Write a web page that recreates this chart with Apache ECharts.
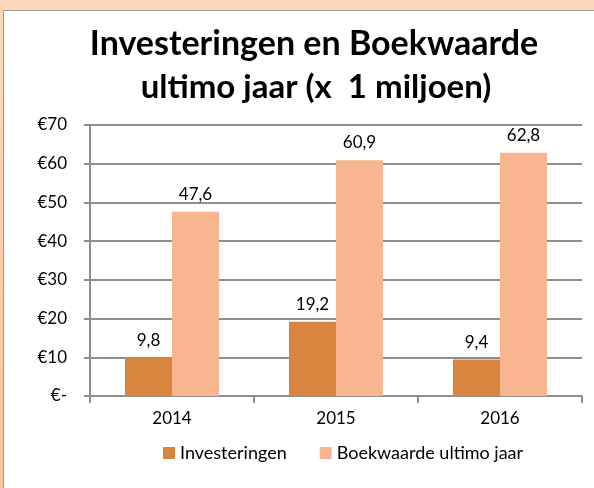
<!DOCTYPE html>
<html>
<head>
<meta charset="utf-8">
<script src="https://cdn.jsdelivr.net/npm/echarts@6/dist/echarts.min.js"></script>
<style>
  html, body { margin: 0; padding: 0; }
  body {
    width: 594px; height: 488px; overflow: hidden;
    background: linear-gradient(to bottom, #fdd8b8, #fbc39a);
    position: relative;
  }
  #frame {
    position: absolute; left: 3px; top: 10px; right: 0; bottom: 0;
    background: #fff;
    border-left: 1px solid #9a9a9a;
    border-top: 1px solid #9a9a9a;
  }
  #main { position: absolute; left: 0; top: 0; width: 594px; height: 488px; }
</style>
</head>
<body>
<div id="frame"></div>
<div id="main"></div>
<script>
  // data
  var years = ["2014", "2015", "2016"];
  var investeringen = [9.8, 19.2, 9.4];
  var boekwaarde = [47.6, 60.9, 62.8];
  var titleLines = ["Investeringen en Boekwaarde", "ultimo jaar (x  1 miljoen)"];

  var fontFam = "Lato, 'Open Sans', sans-serif";

  function fmtVal(v) {
    return String(v.toFixed(1)).replace(".", ",");
  }

  var myChart = echarts.init(document.getElementById("main"));

  var labelOption = {
    show: true,
    position: "top",
    distance: 9,
    color: "#000",
    fontSize: 17,
    fontFamily: fontFam,
    formatter: function (p) {
      return fmtVal(p.value);
    },
  };

  var option = {
    animation: false,
    backgroundColor: "transparent",
    graphic: [
      {
        type: "text",
        x: 314,
        y: 27,
        style: {
          text: titleLines[0],
          textAlign: "center",
          fill: "#000",
          font: "bold 34px " + fontFam,
        },
      },
      {
        type: "text",
        x: 316,
        y: 71,
        style: {
          text: titleLines[1],
          textAlign: "center",
          fill: "#000",
          font: "bold 33px " + fontFam,
        },
      },
    ],
    legend: {
      data: ["Investeringen", "Boekwaarde ultimo jaar"],
      left: 163,
      top: 444,
      padding: 0,
      icon: "rect",
      itemWidth: 12,
      itemHeight: 12,
      itemGap: 33,
      textStyle: { color: "#000", fontSize: 18, fontFamily: fontFam },
    },
    grid: {
      left: 90,
      right: 12,
      top: 125,
      bottom: 92,
    },
    xAxis: [
      {
        type: "category",
        data: years,
        axisLine: { lineStyle: { color: "#8e8e8e", width: 2 } },
        axisTick: { show: true, length: 7, lineStyle: { color: "#8e8e8e", width: 2 } },
        axisLabel: { color: "#000", fontSize: 17, fontFamily: fontFam, margin: 14 },
      },
    ],
    yAxis: [
      {
        type: "value",
        min: 0,
        max: 70,
        interval: 10,
        axisLine: { show: true, lineStyle: { color: "#8e8e8e", width: 2 } },
        axisTick: { show: true, length: 6, lineStyle: { color: "#8e8e8e", width: 2 } },
        splitLine: { lineStyle: { color: "#8e8e8e", width: 2 } },
        axisLabel: {
          color: "#000",
          fontSize: 17,
          fontFamily: fontFam,
          margin: 23,
          formatter: function (v) {
            return v === 0 ? "€-" : "€" + v;
          },
        },
      },
    ],
    series: [
      {
        name: "Investeringen",
        type: "bar",
        barWidth: 47,
        barGap: 0,
        itemStyle: { color: "#d9843f" },
        label: labelOption,
        data: investeringen,
      },
      {
        name: "Boekwaarde ultimo jaar",
        type: "bar",
        barWidth: 47,
        itemStyle: { color: "#f8b690" },
        label: labelOption,
        data: boekwaarde,
      },
    ],
  };
  myChart.setOption(option);
</script>
</body>
</html>
